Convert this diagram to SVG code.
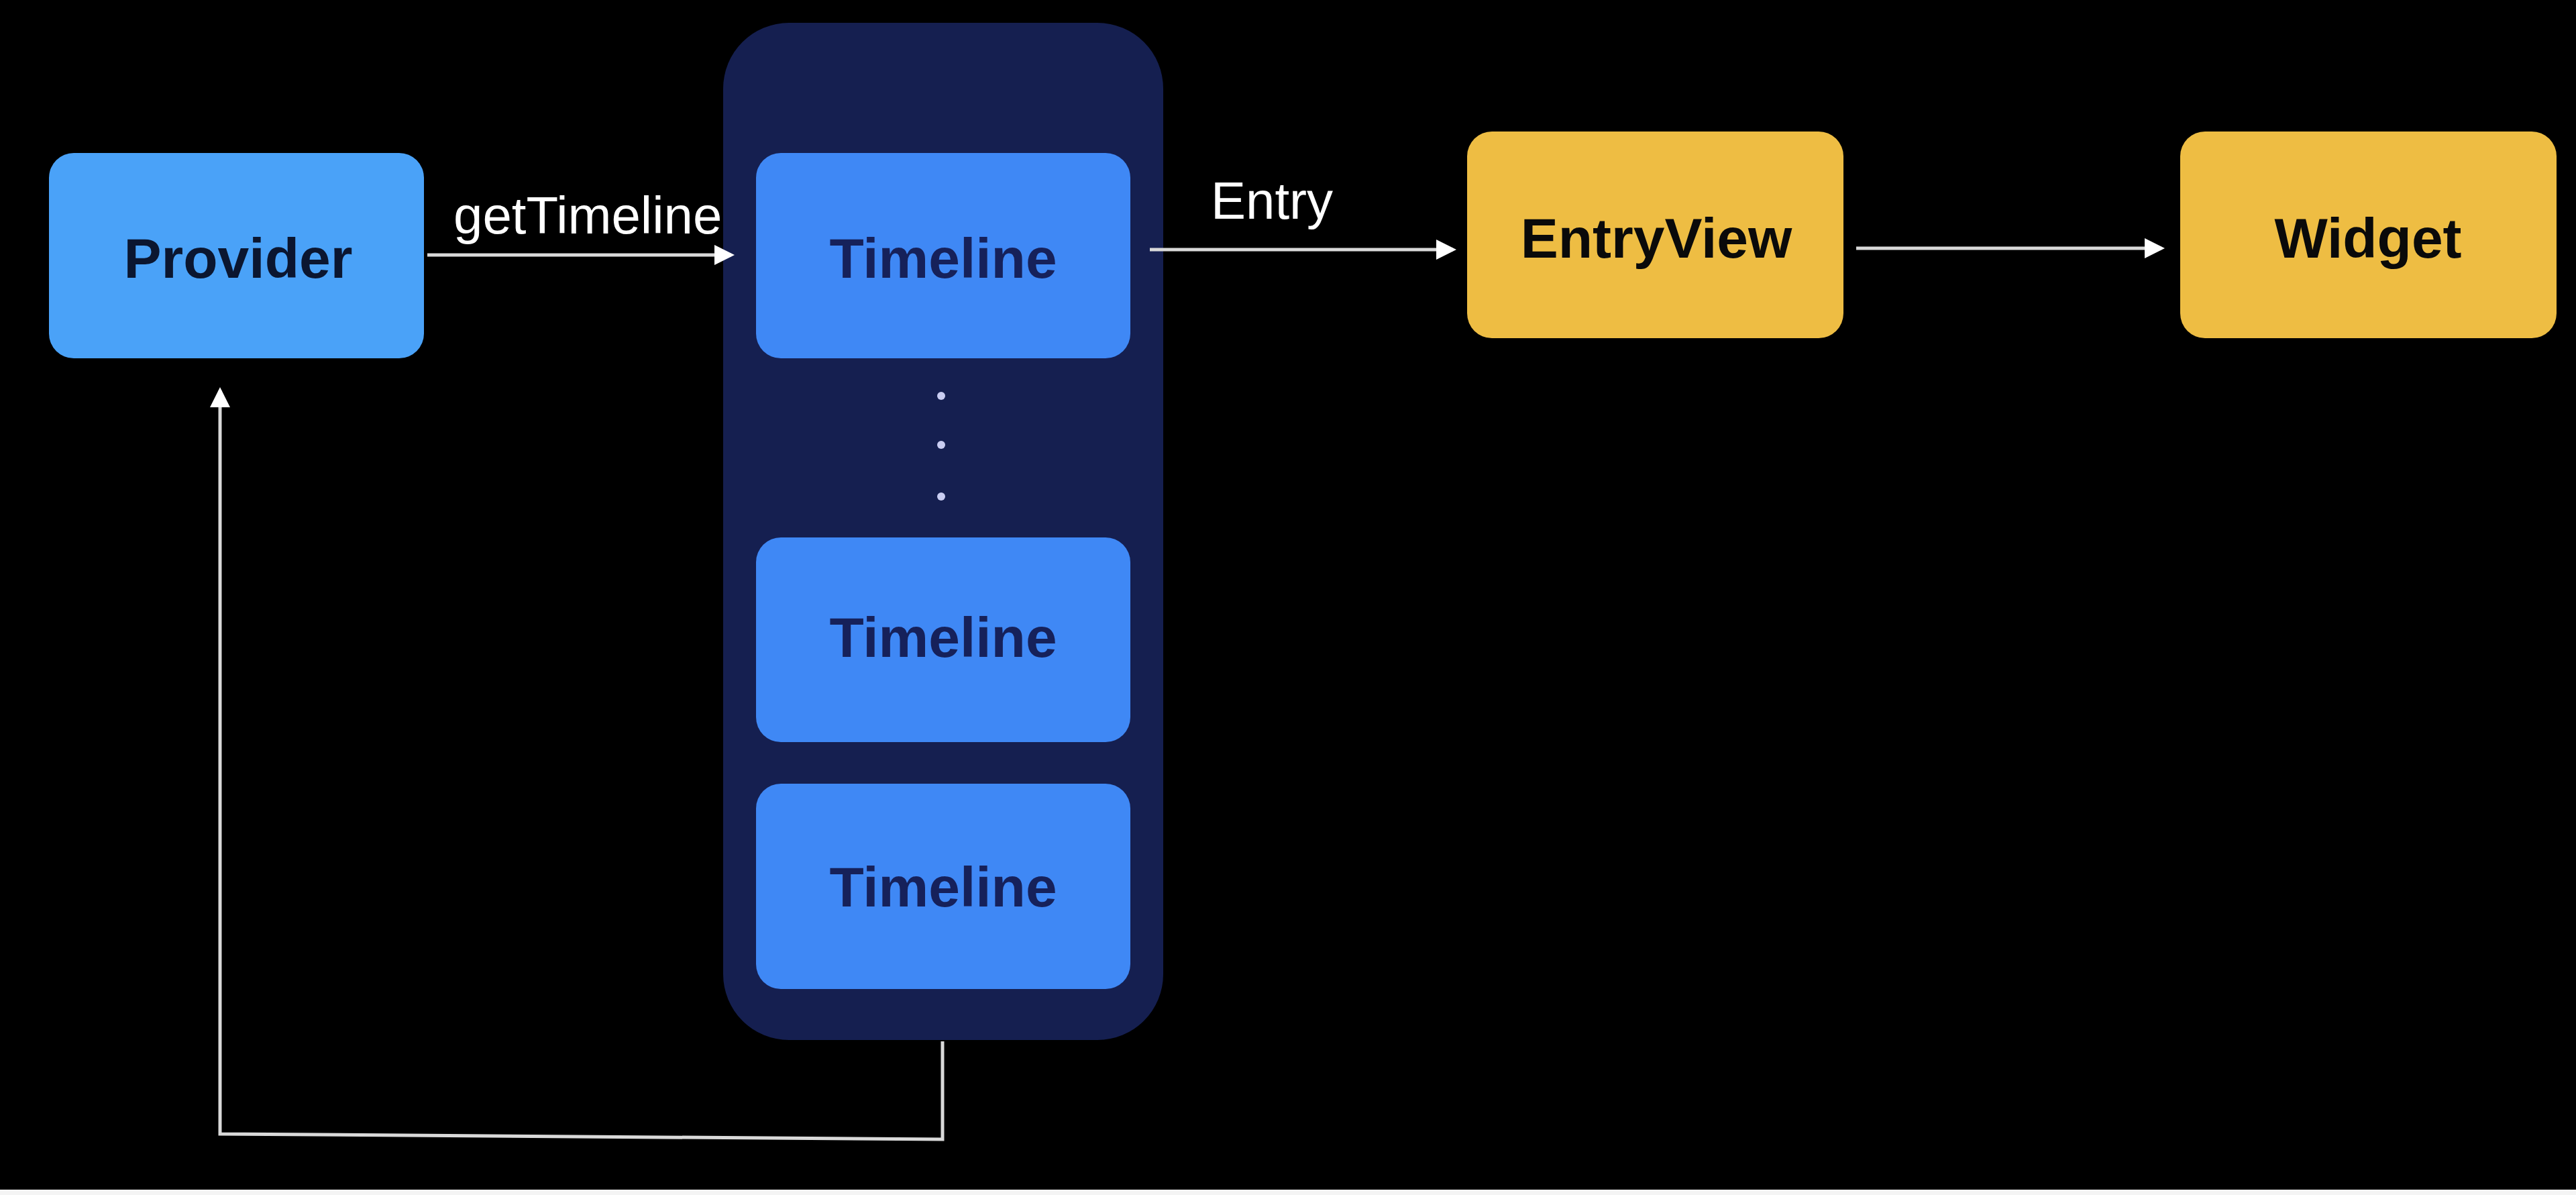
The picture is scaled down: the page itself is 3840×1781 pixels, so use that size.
<svg xmlns="http://www.w3.org/2000/svg" width="3840" height="1781" viewBox="0 0 3840 1781">
<style>
.lbl{font-family:"Liberation Sans",Arial,sans-serif;font-weight:bold;font-size:84px;text-anchor:middle;dominant-baseline:central}
.edge{font-family:"Liberation Sans",Arial,sans-serif;font-size:78px;fill:#FFFFFF}
.conn{stroke:#D9D9D9;stroke-width:5;fill:none}
.tl{fill:#3F88F5}
.tlt{fill:#16215A}
.yel{fill:#EEBD43}
</style>
<defs>
<marker id="ah" markerWidth="6" markerHeight="6" refX="5" refY="3" orient="auto" markerUnits="strokeWidth">
<path d="M0,0 L6,3 L0,6 Z" fill="#FFFFFF"/>
</marker>
</defs>
<rect x="0" y="0" width="3840" height="1781" fill="#000000"/>
<rect x="0" y="1773" width="3840" height="8" fill="#F4F4F4"/>

<g id="timeline-group">
<rect x="1078" y="34" width="656" height="1516" rx="98" fill="#151F50"/>
<circle cx="1403" cy="590" r="6" fill="#C9CDF2"/>
<circle cx="1403" cy="663" r="6" fill="#C9CDF2"/>
<circle cx="1403" cy="740" r="6" fill="#C9CDF2"/>
</g>

<g id="provider">
<rect x="73" y="228" width="559" height="306" rx="37" fill="#4AA2F8"/>
<text class="lbl" x="355" y="385" fill="#0B1630">Provider</text>
</g>

<g id="timeline1">
<rect class="tl" x="1127" y="228" width="558" height="306" rx="37"/>
<text class="lbl tlt" x="1406" y="385">Timeline</text>
</g>

<g id="timeline2">
<rect class="tl" x="1127" y="801" width="558" height="305" rx="37"/>
<text class="lbl tlt" x="1406" y="950">Timeline</text>
</g>

<g id="timeline3">
<rect class="tl" x="1127" y="1168" width="558" height="306" rx="37"/>
<text class="lbl tlt" x="1406" y="1322">Timeline</text>
</g>

<g id="entryview">
<rect class="yel" x="2187" y="196" width="561" height="308" rx="37"/>
<text class="lbl" x="2469" y="355" fill="#0A0A0A">EntryView</text>
</g>

<g id="widget">
<rect class="yel" x="3250" y="196" width="561" height="308" rx="37"/>
<text class="lbl" x="3530" y="355" fill="#0A0A0A">Widget</text>
</g>

<g id="connectors">
<line class="conn" x1="637" y1="380" x2="1090" y2="380" marker-end="url(#ah)"/>
<text class="edge" x="676" y="348">getTimeline</text>
<line class="conn" x1="1714" y1="372" x2="2166" y2="372" marker-end="url(#ah)"/>
<text class="edge" x="1805" y="326">Entry</text>
<line class="conn" x1="2767" y1="370" x2="3222" y2="370" marker-end="url(#ah)"/>
<polyline class="conn" points="1405,1552 1405,1698 328,1690 328,582" marker-end="url(#ah)"/>
</g>
</svg>
